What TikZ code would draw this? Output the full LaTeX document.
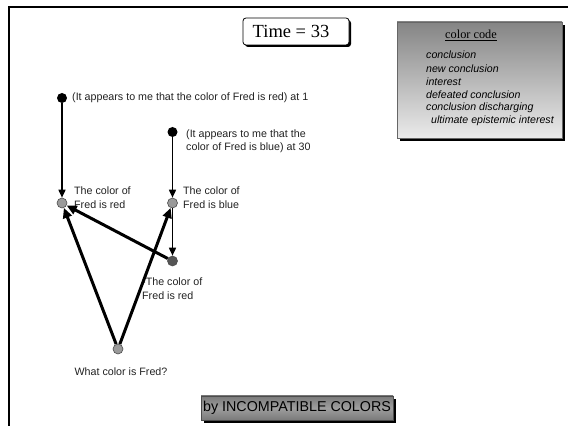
\documentclass[tikz,border=0pt]{standalone}
\usepackage{fontspec}
\setmainfont{Liberation Serif}
\setsansfont{Liberation Sans}
\usetikzlibrary{arrows.meta}
\definecolor{dotgray}{HTML}{9A9A9A}
\definecolor{dotdark}{HTML}{555555}
\definecolor{txt}{HTML}{222222}
\tikzset{
  dotblack/.style={circle,fill=black,inner sep=0pt,minimum size=10pt},
  dotg/.style={circle,fill=dotgray,draw=black!70,line width=0.6pt,inner sep=0pt,minimum size=10pt},
  dotd/.style={circle,fill=dotdark,draw=black!70,line width=0.6pt,inner sep=0pt,minimum size=10pt},
  lbl/.style={font=\sffamily\fontsize{10.7}{13.5}\selectfont,text=txt,align=left,inner sep=0pt,anchor=west},
  thin arr/.style={line width=1.6pt,-{Triangle[length=8pt,width=7pt]}},
  thick arr/.style={line width=3pt,-{Triangle[length=10pt,width=9pt]}},
  legitem/.style={font=\sffamily\itshape\fontsize{10.6}{12}\selectfont,anchor=west,inner sep=0pt}
}
\begin{document}
\begin{tikzpicture}[x=1pt,y=1pt]
\useasboundingbox (0,0) rectangle (568,426);
\fill[white] (0,0) rectangle (568,426);
% frame
\draw[line width=2pt] (9,0) -- (9,418.5) -- (568,418.5);
% time box
\fill[black, rounded corners=3pt] (245,379) rectangle (351,406);
\draw[fill=white, line width=0.8pt, rounded corners=3pt] (243,381) rectangle (349,408);
\node[font=\fontsize{18.5}{20}\selectfont] (time) at (291,394.5) {Time = 33};
% legend
\fill[black] (400,285) rectangle (565,401);
\shade[top color=black!48, bottom color=black!8] (397,288) rectangle (562,404);
\draw[line width=0.5pt, black!60] (397,288) rectangle (562,404);
\node[font=\fontsize{12.3}{14}\selectfont, inner sep=0pt] (cc) at (471,391) {\underline{color code}};
\node[legitem] (l1) at (426,371) {conclusion};
\node[legitem] (l2) at (426,357.5) {new conclusion};
\node[legitem] (l3) at (426,344.5) {interest};
\node[legitem] (l4) at (426,331.5) {defeated conclusion};
\node[legitem] (l5) at (426,318) {conclusion discharging};
\node[legitem] (l6) at (431,305) {ultimate epistemic interest};
% bottom box
\fill[black] (204,3) rectangle (396,27);
\shade[top color=black!52, bottom color=black!52, middle color=black!38] (201,6) rectangle (393,30);
\draw[line width=0.5pt, black!70] (201,6) rectangle (393,30);
\node[font=\sffamily\fontsize{14.3}{16}\selectfont] (by) at (297,18) {by INCOMPATIBLE COLORS};
% nodes
\node[dotblack] (a) at (62,328) {};
\node[dotblack] (b) at (172.5,294) {};
\node[dotg] (c) at (62,223) {};
\node[dotg] (d) at (172.5,223) {};
\node[dotd] (e) at (172.5,165) {};
\node[dotg] (f) at (118,77) {};
% labels
\node[lbl] (la) at (72,328) {(It appears to me that the color of Fred is red) at 1};
\node[lbl] (lb) at (186,285) {(It appears to me that the\\color of Fred is blue) at 30};
\node[lbl] (lc) at (74,228.5) {The color of\\Fred is red};
\node[lbl] (ld) at (183,228.5) {The color of\\Fred is blue};
\node[lbl] (le) at (142,137.5) {-The color of\\Fred is red};
\node[lbl,anchor=center] (lf) at (121,54) {What color is Fred?};
% connectors
\draw[thin arr] (a) -- (c);
\draw[thin arr] (b) -- (d);
\draw[thin arr] (d) -- (e);
\draw[thick arr] (e) -- (c);
\draw[thick arr] (f) -- (c);
\draw[thick arr] (f) -- (d);
\end{tikzpicture}
\end{document}
